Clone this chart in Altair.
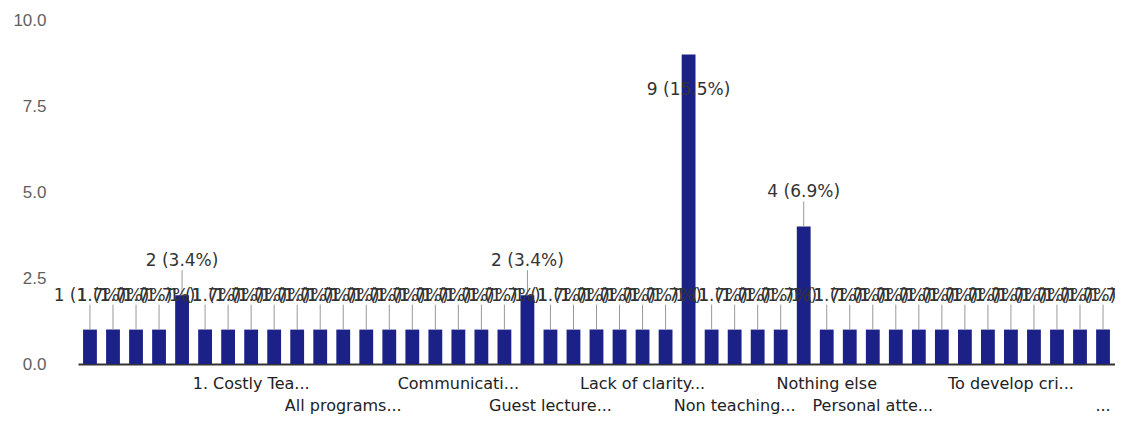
import altair as alt
import pandas as pd

# 45 response categories (bars), counts
bar_ids = list(range(1, 46))
counts = [1, 1, 1, 1, 2, 1, 1, 1, 1, 1,
          1, 1, 1, 1, 1, 1, 1, 1, 1, 2,
          1, 1, 1, 1, 1, 1, 9, 1, 1, 1,
          1, 4, 1, 1, 1, 1, 1, 1, 1, 1,
          1, 1, 1, 1, 1]
total = sum(counts)  # 58 responses

# category labels visible on the axis (bar id -> label, row)
label_ids = [4, 8, 12, 17, 21, 25, 29, 33, 35, 41, 45]
label_texts = ["", "1. Costly Tea...", "All programs...", "Communicati...",
               "Guest lecture...", "Lack of clarity...", "Non teaching...",
               "Nothing else", "Personal atte...", "To develop cri...", "..."]
label_rows = [2, 1, 2, 1, 2, 1, 2, 1, 2, 1, 2]

y_ticks = [0, 2.5, 5, 7.5, 10]

df = pd.DataFrame({"id": bar_ids, "count": counts})
df["label"] = [f"{c} ({c / total * 100:.1f}%)" for c in counts]
df["inside"] = df["count"] == max(counts)

lab = pd.DataFrame({"id": label_ids, "text": label_texts, "row": label_rows})

W, H = 1037, 344
BAR = "#1c2188"
FONT = "DejaVu Sans"

xscale = alt.Scale(domain=bar_ids, paddingInner=0.4, paddingOuter=0.22)
x = alt.X("id:O", scale=xscale,
          axis=alt.Axis(labels=False, ticks=False, title=None,
                        domainColor="#333333", domainWidth=2))
yscale = alt.Scale(domain=[0, 10], nice=False)

bars = alt.Chart(df).mark_bar(color=BAR).encode(
    x=x,
    y=alt.Y("count:Q", scale=yscale,
            axis=alt.Axis(values=y_ticks, format=".1f", title=None, grid=False,
                          domain=False, ticks=False, labelPadding=32,
                          labelFontSize=17, labelColor="#5f5f5f",
                          labelFont="Liberation Sans")),
)

outside = df[~df["inside"]]
stems = alt.Chart(outside).mark_rule(color="#999999", strokeWidth=1,
                                     y2Offset=-25).encode(
    x=alt.X("id:O", scale=xscale),
    y=alt.Y("count:Q", scale=yscale),
    y2="count:Q",
)

ann_out = alt.Chart(outside).mark_text(
    dy=-34, fontSize=17, color="#333333", font=FONT
).encode(
    x=alt.X("id:O", scale=xscale),
    y=alt.Y("count:Q", scale=yscale),
    text="label:N",
)

ann_in = alt.Chart(df[df["inside"]]).mark_text(
    dy=36, fontSize=17, color="#333333", font=FONT
).encode(
    x=alt.X("id:O", scale=xscale),
    y=alt.Y("count:Q", scale=yscale),
    text="label:N",
)

xlab1 = alt.Chart(lab[lab["row"] == 1]).mark_text(
    fontSize=16, color="#222222", font=FONT, baseline="middle"
).encode(
    x=alt.X("id:O", scale=xscale),
    y=alt.value(H + 20),
    text="text:N",
)
xlab2 = alt.Chart(lab[lab["row"] == 2]).mark_text(
    fontSize=16, color="#222222", font=FONT, baseline="middle"
).encode(
    x=alt.X("id:O", scale=xscale),
    y=alt.value(H + 42),
    text="text:N",
)

chart = alt.layer(bars, stems, ann_out, ann_in, xlab1, xlab2).properties(
    width=W, height=H,
    autosize=alt.AutoSizeParams(type="none"),
    padding={"left": 70, "top": 12, "right": 0, "bottom": 55},
).configure(background="white").configure_view(strokeWidth=0, stroke=None)

chart.save("out.html", embed_options={"renderer": "svg", "actions": False})
